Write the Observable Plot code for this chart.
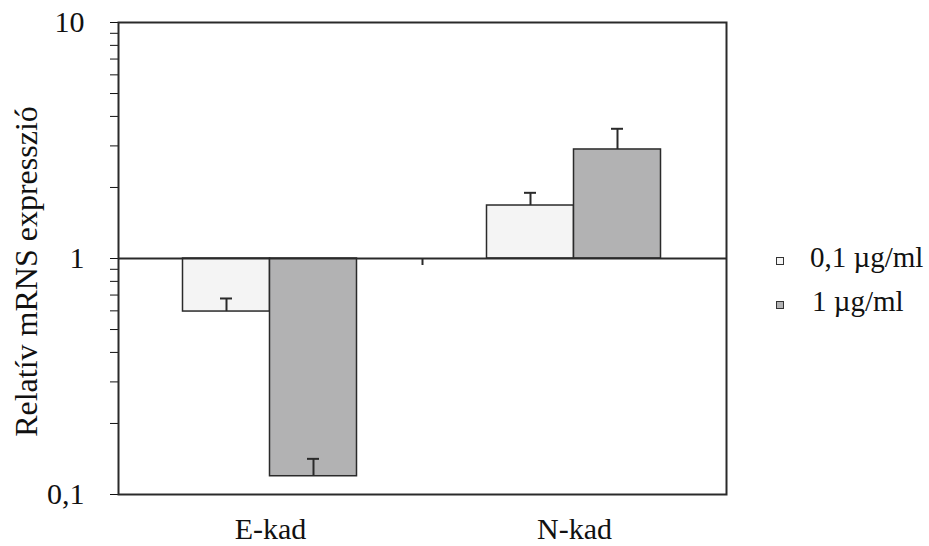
<!DOCTYPE html>
<html>
<head>
<meta charset="utf-8">
<script src="https://cdn.jsdelivr.net/npm/d3@7"></script>
<script src="https://cdn.jsdelivr.net/npm/@observablehq/plot@0.6"></script>
<style>
  html, body { margin: 0; padding: 0; background: #fff; }
  #wrap { position: relative; width: 929px; height: 546px; font-family: "Liberation Serif", "Times New Roman", serif; }
  .lg { position: absolute; font-size: 29px; line-height: 29px; color: #111; white-space: nowrap; }
  .sw { position: absolute; width: 6px; height: 6px; border: 1px solid #333; }
</style>
</head>
<body>
<div id="wrap"></div>
<script>
const categories = ["E-kad", "N-kad"];
const seriesNames = ["0,1 µg/ml", "1 µg/ml"];
const seriesColors = ["#f4f4f4", "#b2b2b3"];
const valuesLow = [0.596, 1.677];    // 0,1 µg/ml
const valuesHigh = [0.1195, 2.897];  // 1 µg/ml
const errLow = [0.677, 1.898];
const errHigh = [0.1416, 3.545];
const yTickValues = [0.1,0.2,0.3,0.4,0.5,0.6,0.7,0.8,0.9,1,2,3,4,5,6,7,8,9,10];
const yTickLabels = {"0.1": "0,1", "1": "1", "10": "10"};
const yLabel = "Relatív mRNS expresszió";
const separatorAt = ["N-kad"];

const lowData = categories.map((c, i) => ({cat: c, series: seriesNames[0], v: valuesLow[i], e: errLow[i]}));
const highData = categories.map((c, i) => ({cat: c, series: seriesNames[1], v: valuesHigh[i], e: errHigh[i]}));

const ink = "#2a2a2a";
const chart = Plot.plot({
  width: 929,
  height: 546,
  marginLeft: 118,
  marginRight: 203,
  marginTop: 22,
  marginBottom: 52,
  style: {fontFamily: "'Liberation Serif', 'Times New Roman', serif", fontSize: "30px", color: "#111", background: "#fff"},
  x: {type: "band", domain: categories, padding: 0, tickSize: 0, tickPadding: 23, label: null},
  y: {type: "log", domain: [0.1, 10], ticks: yTickValues, tickFormat: d => yTickLabels[String(d)] ?? "", tickSize: 8, tickPadding: 26, label: null},
  color: {domain: seriesNames, range: seriesColors},
  marks: [
    Plot.barY(lowData, {x: "cat", y1: 1, y2: "v", fill: "series", stroke: ink, strokeWidth: 1.5, insetLeft: 64.5, insetRight: 152.5}),
    Plot.barY(highData, {x: "cat", y1: 1, y2: "v", fill: "series", stroke: ink, strokeWidth: 1.5, insetLeft: 151.5, insetRight: 65.5}),
    Plot.ruleX(lowData, {x: "cat", y1: "v", y2: "e", stroke: ink, strokeWidth: 2, dx: -44}),
    Plot.ruleX(highData, {x: "cat", y1: "v", y2: "e", stroke: ink, strokeWidth: 2, dx: 43}),
    Plot.tickY(lowData, {x: "cat", y: "e", stroke: ink, strokeWidth: 2, dx: -44, insetLeft: 146, insetRight: 146}),
    Plot.tickY(highData, {x: "cat", y: "e", stroke: ink, strokeWidth: 2, dx: 43, insetLeft: 146, insetRight: 146}),
    Plot.ruleY([1], {stroke: ink, strokeWidth: 2}),
    Plot.ruleX(separatorAt, {x: d => d, y1: 1, y2: 0.934, stroke: ink, strokeWidth: 2, dx: -152}),
    Plot.frame({stroke: ink, strokeWidth: 2}),
    Plot.text([yLabel], {text: d => d, frameAnchor: "left", textAnchor: "middle", rotate: -90, dx: -92, dy: 13, fontSize: 32, fill: "#111"})
  ]
});
const wrap = document.getElementById("wrap");
wrap.appendChild(chart);

const legendTops = [243, 287];
seriesNames.forEach((name, i) => {
  const sw = document.createElement("div");
  sw.className = "sw";
  sw.style.left = "776px";
  sw.style.top = (legendTops[i] + 14) + "px";
  sw.style.background = seriesColors[i];
  wrap.appendChild(sw);
  const t = document.createElement("div");
  t.className = "lg";
  t.style.left = (i === 0 ? 810 : 812) + "px";
  t.style.top = legendTops[i] + "px";
  t.textContent = name;
  wrap.appendChild(t);
});
</script>
</body>
</html>
